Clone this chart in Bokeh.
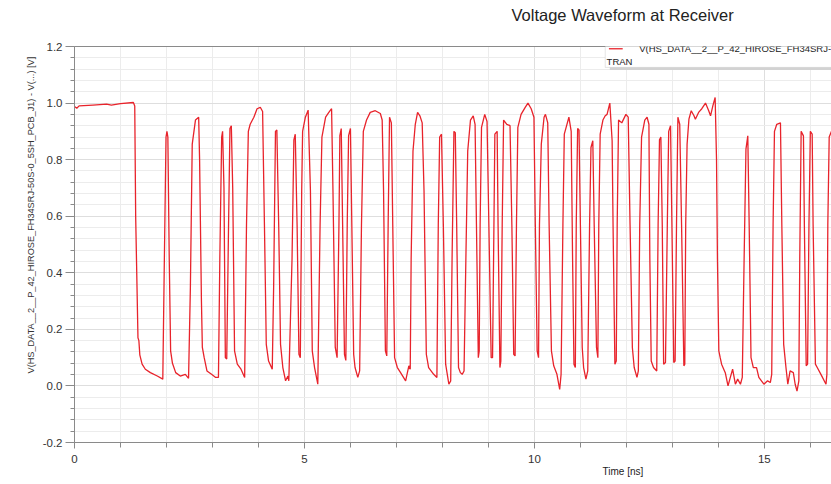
from bokeh.plotting import figure
from bokeh.models import (FixedTicker, PrintfTickFormatter, Label, BoxAnnotation,
                          LinearAxis, Range1d, Title)
from bokeh.embed import file_html
from bokeh.resources import INLINE

title_text = "Voltage Waveform at Receiver"
y_label = "V(HS_DATA__2__P_42_HIROSE_FH34SRJ-50S-0_5SH_PCB_J1) - V(...) [V]"
x_label = "Time [ns]"
legend_line1 = "V(HS_DATA__2__P_42_HIROSE_FH34SRJ-"
legend_line2 = "TRAN"

x_major_ticks = [0, 5, 10, 15]
x_minor_ticks = list(range(0, 17))
y_major_ticks = [-0.2, 0.0, 0.2, 0.4, 0.6, 0.8, 1.0, 1.2]
y_minor_ticks = [round(-0.2 + 0.04 * i, 2) for i in range(36)]

# waveform (time in ns)
time_ns = [
    0.00, 0.05, 0.10, 0.40, 0.70, 0.80, 1.00, 1.28, 1.31, 1.33, 1.38, 1.40, 1.42, 1.47, 1.54, 1.65, 1.80, 1.92,
    1.95, 1.99, 2.01, 2.03, 2.06, 2.09, 2.13, 2.20, 2.30, 2.41, 2.48,
    2.52, 2.56, 2.63, 2.70, 2.72, 2.76, 2.78, 2.82, 2.88, 2.98, 3.07, 3.13,
    3.16, 3.20, 3.22, 3.25, 3.28, 3.31,
    3.35, 3.38, 3.41, 3.44, 3.48, 3.54, 3.62, 3.70,
    3.74, 3.78, 3.82, 3.90, 3.97, 4.04, 4.09, 4.13, 4.17, 4.22, 4.30,
    4.33, 4.37, 4.40, 4.44, 4.48, 4.53, 4.59, 4.64, 4.66,
    4.73, 4.77, 4.80, 4.84, 4.88, 4.91,
    4.94, 4.96, 5.02, 5.08, 5.13, 5.17, 5.22, 5.29,
    5.34, 5.38, 5.46, 5.53, 5.59, 5.62, 5.67, 5.71,
    5.75, 5.77, 5.80, 5.83, 5.87, 5.90,
    5.93, 5.96, 6.00, 6.03, 6.07, 6.10, 6.16, 6.20,
    6.24, 6.28, 6.35, 6.43, 6.54, 6.65, 6.69, 6.72, 6.76, 6.79,
    6.82, 6.85, 6.89, 6.92, 6.96, 7.02, 7.09, 7.20, 7.27, 7.30,
    7.32, 7.36, 7.41, 7.46, 7.51, 7.56, 7.60, 7.65, 7.70, 7.81, 7.88,
    7.91, 7.94, 7.98, 8.02, 8.07, 8.14, 8.18,
    8.21, 8.25, 8.28, 8.31, 8.35, 8.39, 8.43, 8.47,
    8.51, 8.55, 8.61, 8.67, 8.71, 8.74, 8.78, 8.80,
    8.82, 8.85, 8.92, 8.97, 9.01, 9.06, 9.09,
    9.12, 9.14, 9.19, 9.21, 9.25, 9.27,
    9.30, 9.33, 9.40, 9.47, 9.51, 9.55, 9.58,
    9.61, 9.64, 9.71, 9.80, 9.86, 9.93, 9.99, 10.02, 10.06, 10.09,
    10.11, 10.15, 10.21, 10.24, 10.29, 10.32, 10.37, 10.42, 10.49, 10.55, 10.58,
    10.62, 10.65, 10.69, 10.75, 10.80, 10.83, 10.86, 10.89,
    10.91, 10.94, 10.97, 11.00, 11.04, 11.07, 11.12, 11.16,
    11.20, 11.23, 11.27, 11.30, 11.35, 11.38,
    11.40, 11.43, 11.49, 11.54, 11.58, 11.64, 11.69, 11.71, 11.75, 11.78,
    11.80, 11.83, 11.90, 11.99, 12.04, 12.08, 12.13, 12.17, 12.23, 12.26,
    12.29, 12.33, 12.40, 12.45, 12.49, 12.51, 12.54, 12.59, 12.66,
    12.69, 12.72, 12.75, 12.78, 12.81, 12.85,
    12.89, 12.92, 12.96, 12.99, 13.03, 13.06,
    13.09, 13.12, 13.16, 13.20, 13.25, 13.27,
    13.29, 13.32, 13.36, 13.41, 13.47, 13.50, 13.57, 13.64, 13.72, 13.79,
    13.83, 13.88, 13.93, 13.96, 13.98, 14.01, 14.04, 14.07, 14.15, 14.21,
    14.26, 14.31, 14.37, 14.42, 14.48, 14.52,
    14.56, 14.60, 14.64, 14.67, 14.71, 14.76, 14.83, 14.88, 14.99, 15.07, 15.13, 15.16,
    15.19, 15.22, 15.27, 15.35, 15.38, 15.42, 15.47, 15.51, 15.56, 15.63, 15.67, 15.71, 15.75,
    15.77, 15.80, 15.85, 15.87, 15.91, 15.94,
    15.97, 16.00, 16.04, 16.06, 16.11, 16.15, 16.23, 16.34, 16.36,
    16.38, 16.41, 16.46, 16.50,
]

# voltage in V
voltage_v = [
    0.988, 0.982, 0.990, 0.993, 0.996, 0.993, 0.998, 1.002, 0.990, 0.600, 0.170, 0.160, 0.110, 0.077, 0.059, 0.047, 0.035, 0.024,
    0.400, 0.880, 0.900, 0.880, 0.450, 0.124, 0.080, 0.047, 0.035, 0.041, 0.027,
    0.350, 0.855, 0.940, 0.950, 0.800, 0.300, 0.136, 0.100, 0.053, 0.041, 0.030, 0.030,
    0.450, 0.880, 0.900, 0.700, 0.100, 0.095,
    0.570, 0.910, 0.920, 0.700, 0.124, 0.077, 0.059, 0.030,
    0.570, 0.900, 0.925, 0.950, 0.980, 0.985, 0.970, 0.570, 0.147, 0.088, 0.059,
    0.350, 0.900, 0.905, 0.570, 0.147, 0.065, 0.018, 0.035, 0.018,
    0.450, 0.870, 0.890, 0.570, 0.112, 0.100,
    0.690, 0.900, 0.950, 0.975, 0.690, 0.124, 0.065, 0.006,
    0.570, 0.880, 0.950, 0.967, 0.980, 0.690, 0.136, 0.100,
    0.570, 0.885, 0.910, 0.570, 0.112, 0.090,
    0.570, 0.885, 0.910, 0.570, 0.112, 0.065, 0.030, 0.053,
    0.570, 0.900, 0.940, 0.967, 0.973, 0.963, 0.940, 0.690, 0.124, 0.106,
    0.570, 0.950, 0.930, 0.570, 0.100, 0.065, 0.047, 0.018, 0.071, 0.059,
    0.450, 0.830, 0.925, 0.967, 0.955, 0.930, 0.690, 0.112, 0.065, 0.041, 0.030,
    0.570, 0.880, 0.890, 0.570, 0.077, 0.006, 0.018,
    0.450, 0.900, 0.895, 0.570, 0.065, 0.047, 0.041, 0.053,
    0.450, 0.830, 0.940, 0.955, 0.925, 0.570, 0.100, 0.124,
    0.570, 0.914, 0.960, 0.935, 0.570, 0.100, 0.100,
    0.570, 0.890, 0.900, 0.570, 0.065, 0.088,
    0.570, 0.940, 0.925, 0.920, 0.570, 0.112, 0.106,
    0.570, 0.914, 0.960, 0.985, 1.000, 0.980, 0.950, 0.570, 0.124, 0.100,
    0.570, 0.855, 0.950, 0.960, 0.930, 0.570, 0.124, 0.071, 0.041, -0.012, 0.041,
    0.570, 0.890, 0.914, 0.950, 0.900, 0.450, 0.077, 0.065,
    0.570, 0.910, 0.905, 0.570, 0.136, 0.065, 0.024, 0.053,
    0.570, 0.843, 0.867, 0.570, 0.136, 0.100,
    0.570, 0.890, 0.940, 0.955, 0.960, 1.000, 0.867, 0.570, 0.077, 0.088,
    0.570, 0.940, 0.930, 0.960, 0.950, 0.570, 0.136, 0.065, 0.030, 0.053,
    0.570, 0.880, 0.940, 0.950, 0.925, 0.450, 0.088, 0.065, 0.053,
    0.570, 0.870, 0.880, 0.570, 0.077, 0.083,
    0.570, 0.900, 0.920, 0.570, 0.083, 0.088,
    0.570, 0.950, 0.925, 0.570, 0.071, 0.077,
    0.570, 0.855, 0.943, 0.973, 0.955, 0.943, 0.967, 0.980, 1.000, 0.973,
    0.955, 0.990, 1.020, 0.800, 0.450, 0.124, 0.100, 0.077, 0.047, 0.000,
    0.030, 0.059, 0.006, 0.024, 0.006, 0.030,
    0.450, 0.837, 0.884, 0.570, 0.100, 0.065, 0.065, 0.030, 0.006, 0.018, 0.012, 0.041,
    0.570, 0.900, 0.925, 0.930, 0.570, 0.147, 0.065, 0.006, 0.053, 0.047, 0.006, -0.018, 0.018,
    0.450, 0.900, 0.884, 0.570, 0.071, 0.077,
    0.570, 0.900, 0.890, 0.570, 0.077, 0.065, 0.041, 0.006, 0.041,
    0.570, 0.880, 0.900, 0.900,
]

FONT = "Liberation Sans"
AXIS_GREY = "#8a8a8a"
WAVE_RED = "#e8232b"

p = figure(width=831, height=484, x_range=Range1d(0, 16.46), y_range=Range1d(-0.2, 1.2),
           output_backend="svg", toolbar_location=None,
           min_border_left=74, min_border_right=0, min_border_top=46, min_border_bottom=42)
p.outline_line_color = None
p.background_fill_color = "white"
p.border_fill_color = "white"

p.line(time_ns, voltage_v, line_color=WAVE_RED, line_width=1.3)

xa = p.xaxis[0]
xa.ticker = FixedTicker(ticks=x_major_ticks, minor_ticks=x_minor_ticks)
xa.formatter = PrintfTickFormatter(format="%d")
ya = p.yaxis[0]
ya.ticker = FixedTicker(ticks=y_major_ticks, minor_ticks=y_minor_ticks)
ya.formatter = PrintfTickFormatter(format="%.1f")
for ax in (xa, ya):
    ax.axis_line_color = AXIS_GREY
    ax.major_tick_line_color = AXIS_GREY
    ax.minor_tick_line_color = AXIS_GREY
    ax.major_tick_in = 0
    ax.minor_tick_in = 0
    ax.major_label_text_font = FONT
    ax.major_label_text_font_size = "11.5px"
    ax.major_label_text_color = "#333333"
xa.major_tick_out = 6
xa.minor_tick_out = 5
xa.major_label_standoff = 6
ya.major_tick_out = 9
ya.minor_tick_out = 4
ya.major_label_standoff = 3

# thin line on the top edge of the frame (invisible ticks reserve room above it)
top = LinearAxis(major_tick_line_color=None, minor_tick_line_color=None,
                 major_tick_out=22, minor_tick_out=0, major_label_standoff=0,
                 major_label_text_color=None, major_label_text_font_size="0px",
                 axis_line_color=AXIS_GREY)
p.add_layout(top, "above")

p.xgrid.grid_line_color = "#dedede"
p.xgrid.minor_grid_line_color = "#ececec"
p.ygrid.grid_line_color = "#dedede"
p.ygrid.minor_grid_line_color = "#ececec"

# title and axis titles as side-panel titles
p.title.text = title_text
p.title.align = "left"
p.title.offset = 437
p.title.standoff = 2
p.title.text_font = FONT
p.title.text_font_style = "normal"
p.title.text_font_size = "16.5px"
p.title.text_color = "#222222"

p.add_layout(Title(text=x_label, align="left", offset=528, vertical_align="top", standoff=0,
                   text_font=FONT, text_font_style="normal", text_font_size="10px",
                   text_color="#222222"), "below")
p.add_layout(Title(text=y_label, align="left", offset=69, vertical_align="bottom", standoff=8,
                   text_font=FONT, text_font_style="normal", text_font_size="9.2px",
                   text_color="#333333"), "left")

# legend box
p.add_layout(BoxAnnotation(left=11.64, right=17.5, top=1.215, bottom=1.117,
                           fill_color="#d2d2d2", fill_alpha=1.0, line_color=None))
p.add_layout(BoxAnnotation(left=11.54, right=17.5, top=1.225, bottom=1.126,
                           fill_color="white", fill_alpha=1.0, line_color="#a8a8a8", line_width=1))
p.segment(x0=[11.62], y0=[1.192], x1=[11.92], y1=[1.192], line_color=WAVE_RED,
          line_width=1.3, level="overlay")
p.add_layout(Label(x=12.28, y=1.192, text=legend_line1, text_align="left", text_baseline="middle",
                   text_font=FONT, text_font_size="9.5px", text_color="#222222"))
p.add_layout(Label(x=11.57, y=1.146, text=legend_line2, text_align="left", text_baseline="middle",
                   text_font=FONT, text_font_size="9.5px", text_color="#222222"))

open("out.html", "w").write(file_html(p, INLINE))
